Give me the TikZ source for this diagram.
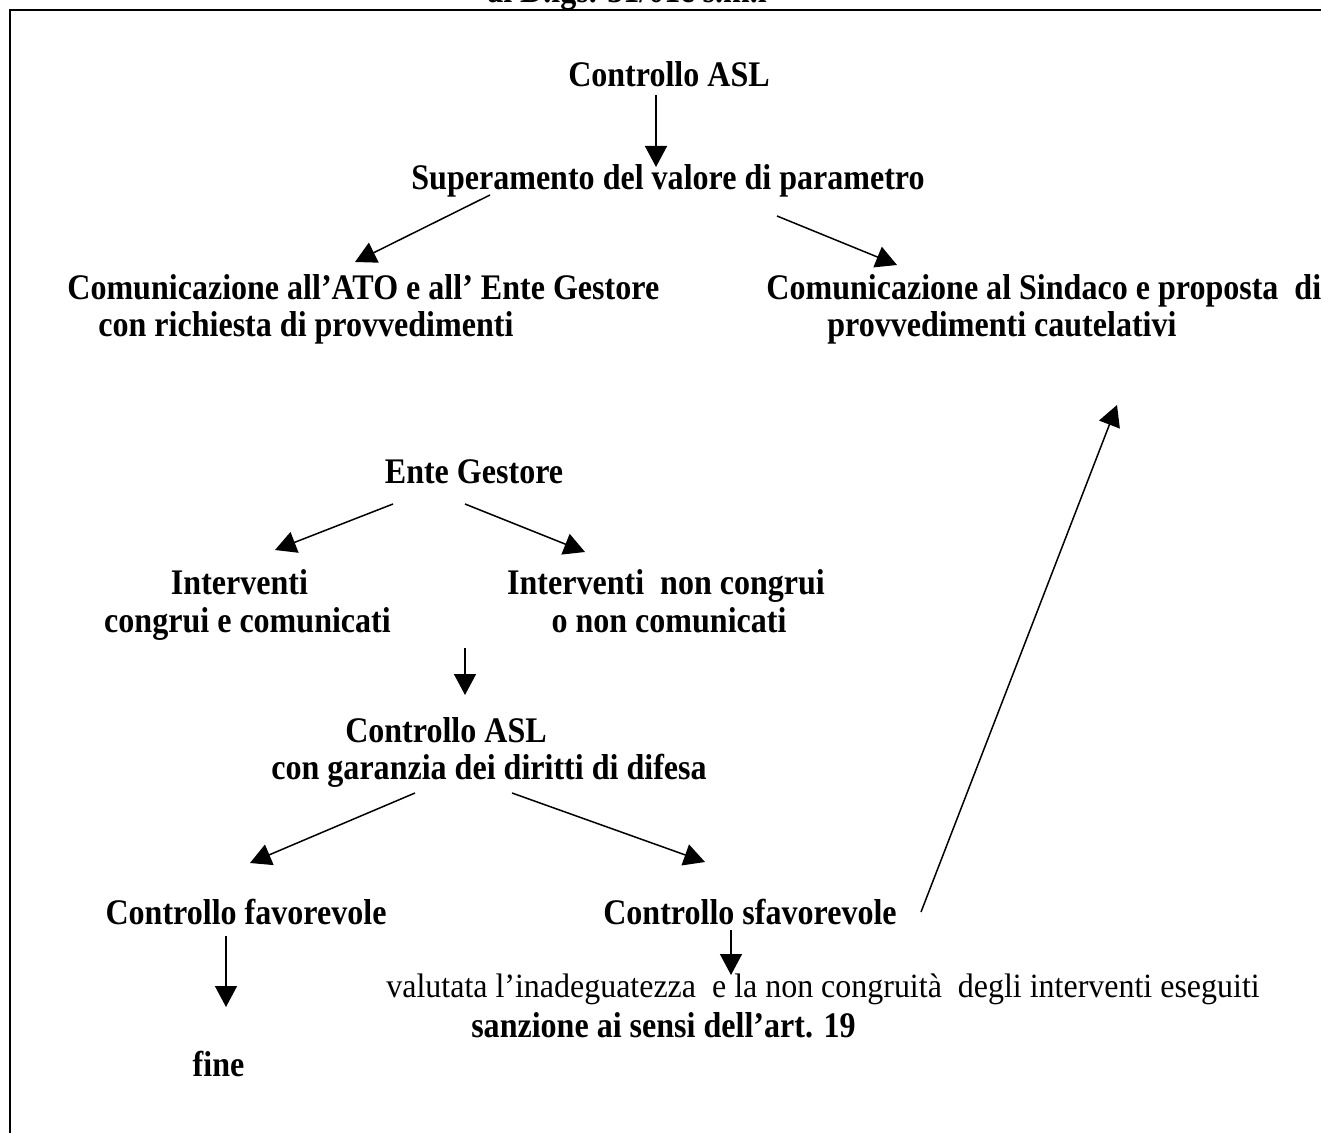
\documentclass[tikz,border=0pt]{standalone}
\usepackage{fontspec}
\setmainfont{Liberation Serif}[FakeStretch=0.89]
\newfontfamily\regfont{Liberation Serif}[FakeStretch=0.94]
\usetikzlibrary{arrows.meta}
\begin{document}
\begin{tikzpicture}[x=0.5pt,y=-0.5pt,
  bt/.style={font=\bfseries\fontsize{18}{21}\selectfont, inner sep=0pt, anchor=base},
  btl/.style={bt, anchor=base west},
  rt/.style={font=\regfont\fontsize{17}{20}\selectfont, inner sep=0pt, anchor=base},
  arr/.style={line width=0.75pt, -{Triangle[length=10.5pt,width=11pt]}},
  frame/.style={line width=1.25pt}]
\useasboundingbox (0,0) rectangle (1321,1133);
% frame
\draw[frame] (10,1140) -- (10,10) -- (1330,10);
% texts
\node[bt] (top) at (627,3) {ai D.lgs. 31/01e s.m.i};
\node[bt] (asl1) at (669,87) {Controllo ASL};
\node[bt] (sup) at (668,190) {Superamento del valore di parametro};
\node[btl] (comLa) at (67,300) {Comunicazione all’ATO e all’ Ente Gestore};
\node[btl] (comLb) at (98,337) {con richiesta di provvedimenti};
\node[btl] (comRa) at (766,300) {Comunicazione al Sindaco e proposta\ \ di};
\node[btl] (comRb) at (827,337) {provvedimenti cautelativi};
\node[bt] (ente) at (474,484) {Ente Gestore};
\node[bt] (intLa) at (239.5,594) {Interventi};
\node[bt] (intLb) at (247.5,632) {congrui e comunicati};
\node[bt] (intRa) at (666,594) {Interventi\ \ non congrui};
\node[bt] (intRb) at (669,632) {o non comunicati};
\node[bt] (asl2a) at (446,742) {Controllo ASL};
\node[bt] (asl2b) at (489,779) {con garanzia dei diritti di difesa};
\node[bt] (fav) at (246,924) {Controllo favorevole};
\node[bt] (sfav) at (750,924) {Controllo sfavorevole};
\node[rt] (val) at (823,997) {valutata l’inadeguatezza\ \ e la non congruità\ \ degli interventi eseguiti};
\node[bt] (sanz) at (663.5,1037) {sanzione ai sensi dell’art. 19};
\node[bt] (fine) at (218.5,1076) {fine};
% connector end points
\coordinate (a1s) at (656,95);   \coordinate (a1e) at (656,167);
\coordinate (a2s) at (490,195);  \coordinate (a2e) at (355,262);
\coordinate (a3s) at (777,216);  \coordinate (a3e) at (897,265);
\coordinate (a4s) at (393,504);  \coordinate (a4e) at (275,550);
\coordinate (a5s) at (465,504);  \coordinate (a5e) at (585,552);
\coordinate (a6s) at (465,648);  \coordinate (a6e) at (465,695);
\coordinate (a7s) at (415,793);  \coordinate (a7e) at (250,863);
\coordinate (a8s) at (512,793);  \coordinate (a8e) at (705,862);
\coordinate (a9s) at (921,912);  \coordinate (a9e) at (1117,405);
\coordinate (a10s) at (226,936); \coordinate (a10e) at (226,1007);
\coordinate (a11s) at (731,930); \coordinate (a11e) at (731,975);
% connectors
\draw[arr] (a1s) -- (a1e);
\draw[arr] (a2s) -- (a2e);
\draw[arr] (a3s) -- (a3e);
\draw[arr] (a4s) -- (a4e);
\draw[arr] (a5s) -- (a5e);
\draw[arr] (a6s) -- (a6e);
\draw[arr] (a7s) -- (a7e);
\draw[arr] (a8s) -- (a8e);
\draw[arr] (a9s) -- (a9e);
\draw[arr] (a10s) -- (a10e);
\draw[arr] (a11s) -- (a11e);
\end{tikzpicture}
\end{document}
